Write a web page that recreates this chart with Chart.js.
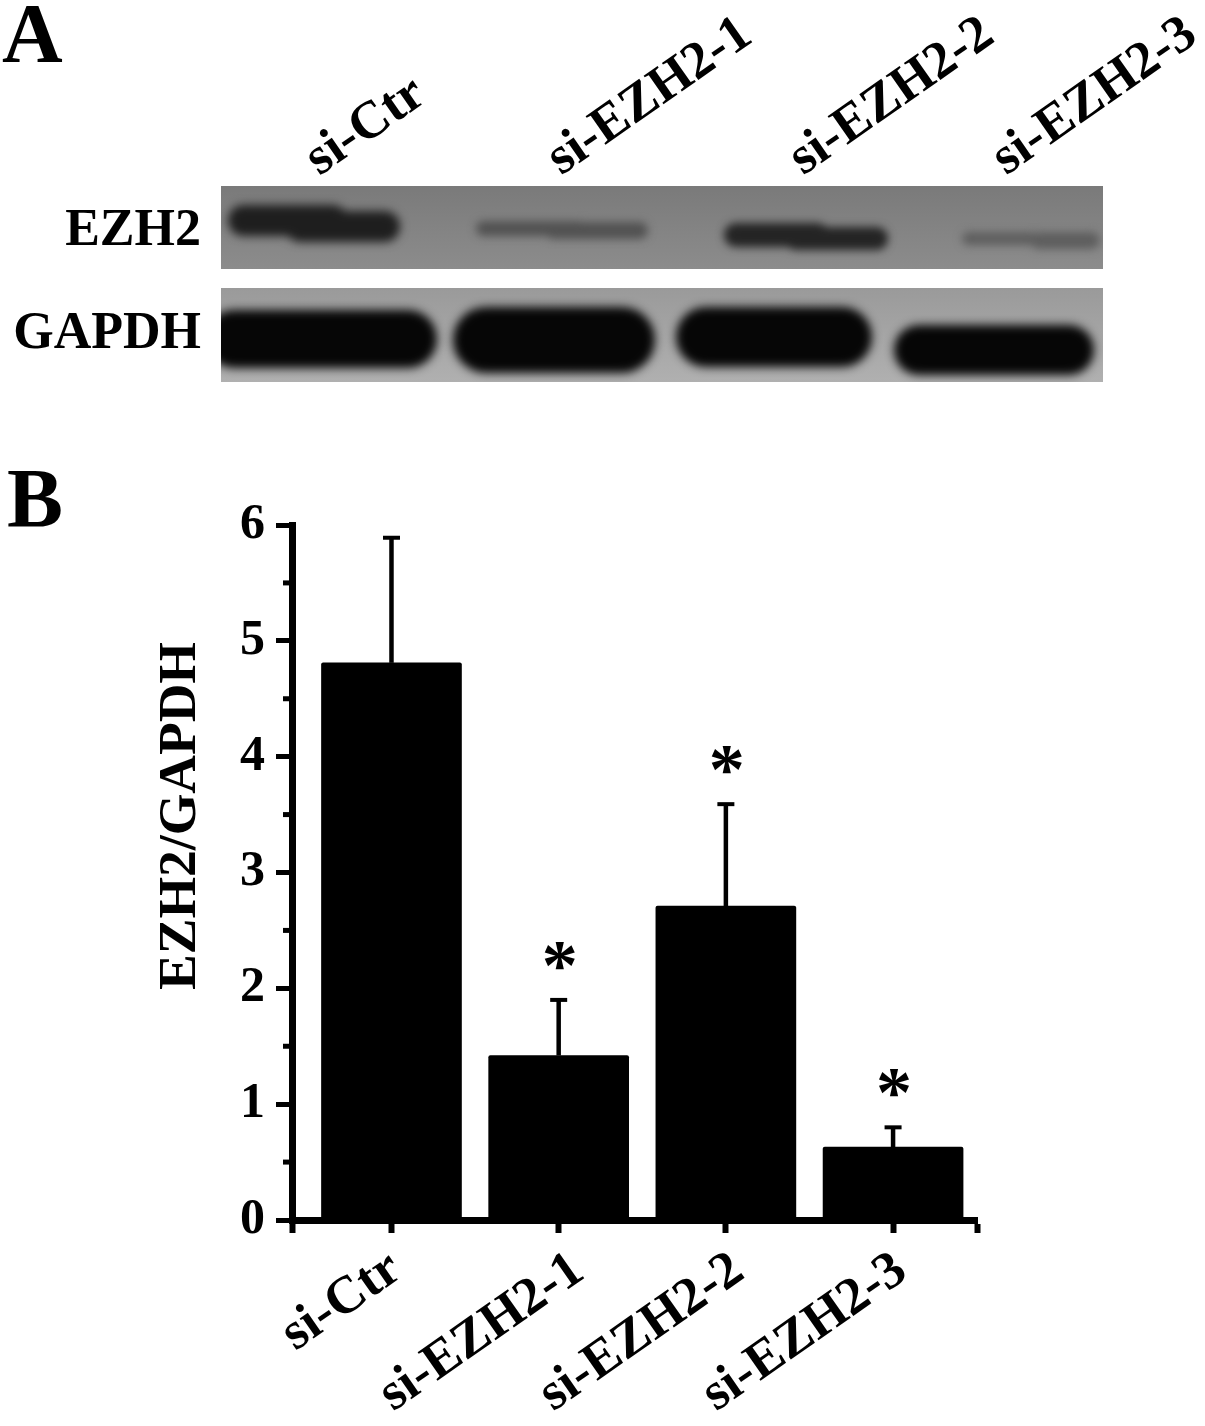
<!DOCTYPE html>
<html><head><meta charset="utf-8">
<style>html,body{margin:0;padding:0;background:#fff}canvas{display:block;filter:blur(0.6px)}</style>
<script src="https://cdn.jsdelivr.net/npm/chart.js@4"></script>
</head><body><canvas id="c" width="1205" height="1426"></canvas>
<script>
const categories = ['si-Ctr','si-EZH2-1','si-EZH2-2','si-EZH2-3'];
const means = [4.81,1.42,2.71,0.63];
const errorTops = [5.89,1.90,3.59,0.80];
const significant = [false,true,true,true];
const yTicks = [0,1,2,3,4,5,6];
const yMinorTicks = [0.5,1.5,2.5,3.5,4.5,5.5];
const SERIF = '"Liberation Serif","Times New Roman",serif';
const font = (s)=>`bold ${s}px ${SERIF}`;

function blot(ctx,p){
  ctx.save();
  const g=ctx.createLinearGradient(0,p.y,0,p.y+p.h);
  g.addColorStop(0,p.top);g.addColorStop(1,p.bottom);
  ctx.fillStyle=g;ctx.fillRect(p.x,p.y,p.w,p.h);
  ctx.beginPath();ctx.rect(p.x,p.y,p.w,p.h);ctx.clip();
  p.groups.forEach(gr=>{
    ctx.filter=`blur(${gr.blur}px)`;ctx.fillStyle=gr.color;
    ctx.beginPath();
    gr.shapes.forEach(b=>{ctx.roundRect(b[0],b[1],b[2],b[3],b[3]/2);});
    ctx.fill('nonzero');
  });
  ctx.restore();ctx.filter='none';
}
const panels=[
 {x:221,y:186,w:882,h:83,top:'#7a7a7a',bottom:'#8c8c8c',groups:[
  {blur:5,color:'#1e1e1e',shapes:[[228,205,120,31],[285,211,115,31]]},
  {blur:4,color:'#525252',shapes:[[476,221,110,15],[545,222,103,17]]},
  {blur:4,color:'#242424',shapes:[[724,223,105,24],[785,227,103,23]]},
  {blur:4,color:'#5e5e5e',shapes:[[962,232,75,13],[1030,232,70,17]]}]},
 {x:221,y:288,w:882,h:94,top:'#9a9a9a',bottom:'#b0b0b0',groups:[
  {blur:5,color:'#060606',shapes:[[205,310,232,58]]},
  {blur:5,color:'#060606',shapes:[[453,307,202,66]]},
  {blur:5,color:'#060606',shapes:[[676,307,196,60]]},
  {blur:5,color:'#060606',shapes:[[894,325,200,50]]}]}
];
const labelsTop=[[366,127],[650,97],[892,97],[1095,97]];
const labelsBottom=[[342,1302],[482,1333],[642,1333],[805,1333]];
const rotated=(ctx,t,x,y,s,a)=>{ctx.save();ctx.translate(x,y);ctx.rotate(a);ctx.font=font(s);ctx.textAlign='center';ctx.textBaseline='middle';ctx.fillText(t,0,0);ctx.restore();};

const decor={id:'decor',
 beforeDraw(ch){panels.forEach(p=>blot(ch.ctx,p));},
 afterDraw(ch){
  const ctx=ch.ctx,xs=ch.scales.x,ys=ch.scales.y,A=-35*Math.PI/180;
  ctx.save();ctx.fillStyle='#000';ctx.strokeStyle='#000';
  ctx.textBaseline='alphabetic';ctx.textAlign='left';
  ctx.font=font(84);ctx.fillText('A',2,62);
  ctx.font=font(84);ctx.fillText('B',7,527);
  ctx.textAlign='right';
  ctx.font=font(52);ctx.fillText('EZH2',201,245);
  ctx.font=font(52);ctx.fillText('GAPDH',201,348);
  categories.forEach((c,i)=>{
    rotated(ctx,c,labelsTop[i][0],labelsTop[i][1],53,A);
    rotated(ctx,c,labelsBottom[i][0],labelsBottom[i][1],53,A);
  });
  rotated(ctx,'EZH2/GAPDH',181,816,53.5,-Math.PI/2);
  ctx.lineWidth=5;
  yMinorTicks.forEach(v=>{const y=ys.getPixelForValue(v);ctx.beginPath();ctx.moveTo(283,y);ctx.lineTo(290,y);ctx.stroke();});
  errorTops.forEach((t,i)=>{
    const x=xs.getPixelForValue(i),y0=ys.getPixelForValue(means[i]),y1=ys.getPixelForValue(t);
    ctx.lineWidth=4.5;ctx.beginPath();ctx.moveTo(x,y0);ctx.lineTo(x,y1);ctx.stroke();
    ctx.lineWidth=4;ctx.beginPath();ctx.moveTo(x-8.5,y1);ctx.lineTo(x+8.5,y1);ctx.stroke();
    if(significant[i]){
      ctx.font=font(72);ctx.textAlign='center';ctx.textBaseline='alphabetic';
      ctx.fillText('*',x+1,y1-11);
    }
  });
  ctx.restore();
 }};

new Chart(document.getElementById('c'),{
 type:'bar',
 data:{datasets:[{data:means.map((v,i)=>({x:i,y:v})),backgroundColor:'#000',borderWidth:0,barThickness:140,borderRadius:2,borderSkipped:'bottom'}]},
 plugins:[decor],
 options:{responsive:false,animation:false,devicePixelRatio:1,
  layout:{padding:{top:525,right:228,left:0,bottom:0}},
  plugins:{legend:{display:false},tooltip:{enabled:false},title:{display:false}},
  scales:{
   x:{type:'linear',offset:false,min:-0.595,max:3.502,
    afterFit(s){s.height=206;},
    afterBuildTicks(s){s.ticks=[-0.595,0,1,2,3,3.502].map(v=>({value:v}));},
    border:{display:true,width:7,color:'#000'},
    grid:{display:true,offset:false,drawOnChartArea:false,drawTicks:true,tickLength:13,tickWidth:6,tickColor:'#000'},
    ticks:{display:false}
   },
   y:{type:'linear',min:0,max:6,
    afterFit(s){s.width=292;},
    afterBuildTicks(s){s.ticks=yTicks.map(v=>({value:v}));},
    border:{display:true,width:7,color:'#000'},
    grid:{display:true,drawOnChartArea:false,drawTicks:true,tickLength:16,tickWidth:5,tickColor:'#000'},
    ticks:{color:'#000',font:{family:SERIF,weight:'bold',size:50},padding:11,callback:v=>String(v)}
   }
  }
 }
});
</script></body></html>
